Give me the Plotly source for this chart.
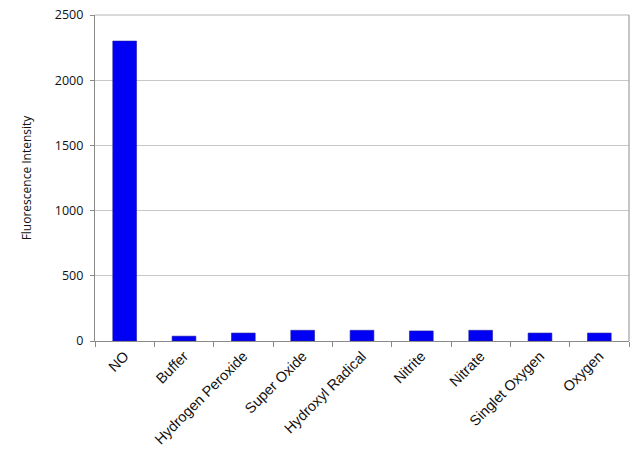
import plotly.graph_objects as go

# Data
categories = ["NO", "Buffer", "Hydrogen Peroxide", "Super Oxide", "Hydroxyl Radical",
              "Nitrite", "Nitrate", "Singlet Oxygen", "Oxygen"]
intensity = [2300, 37, 61, 82, 82, 77, 82, 61, 61]
y_ticks = [0, 500, 1000, 1500, 2000, 2500]

fig = go.Figure()

fig.add_trace(go.Bar(
    x=categories,
    y=intensity,
    width=0.4,
    marker=dict(color="#0000F5", line=dict(color="#1a1aa0", width=0.6)),
    hovertemplate="<b>%{x}</b><br>%{y}<extra></extra>"
))

fig.update_layout(
    width=640, height=465,
    margin=dict(l=95, r=11, t=15, b=124),
    paper_bgcolor="white",
    plot_bgcolor="white",
    showlegend=False,
    bargap=0.6,
)

fig.update_xaxes(
    automargin=False,
    tickangle=-45,
    tickfont=dict(family="Liberation Sans, Arial", size=14.5, color="#111111"),
    showline=True, linecolor="#8a8a8a", linewidth=1.2,
    mirror=False,
    ticks="outside", tickson="boundaries", ticklen=5, tickcolor="#8a8a8a",
    showgrid=False,
)

fig.update_yaxes(
    automargin=False,
    range=[0, 2500],
    tickvals=y_ticks,
    tickfont=dict(family="Open Sans, Liberation Sans", size=12.5, color="#111111"),
    ticklabelstandoff=4,
    title=dict(text="Fluorescence Intensity",
               font=dict(family="Open Sans, Liberation Sans", size=12, color="#111111"),
               standoff=20),
    showline=True, linecolor="#8a8a8a", linewidth=1.2,
    ticks="outside", ticklen=4, tickcolor="#8a8a8a",
    showgrid=True, gridcolor="#c8c8c8", gridwidth=1,
    zeroline=False,
)

# top and right border of the plot area
fig.add_shape(type="line", xref="paper", yref="paper", x0=0, x1=1, y0=1, y1=1,
              line=dict(color="#b4b4b4", width=1.2))
fig.add_shape(type="line", xref="paper", yref="paper", x0=1, x1=1, y0=0, y1=1,
              line=dict(color="#a0a0a0", width=1.2))

# drop the default 8px body margin so the figure sits at the window corner
fig.write_html("out.html", config={"displayModeBar": False},
               post_script="document.body.style.margin='0';")
